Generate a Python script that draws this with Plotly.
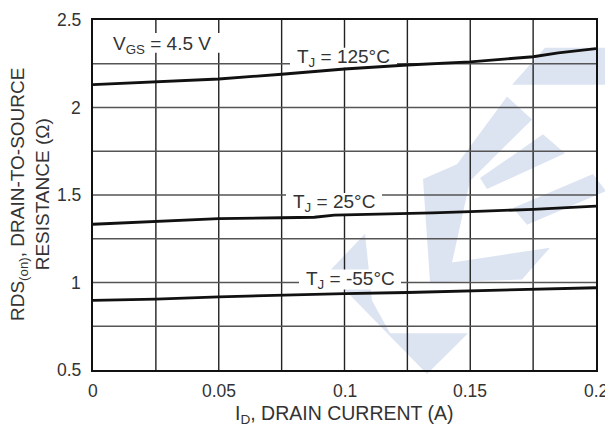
import plotly.graph_objects as go

# ---- data ----
x_125 = [0, 0.025, 0.05, 0.075, 0.1, 0.125, 0.15, 0.175, 0.185, 0.2]
r_125 = [2.131, 2.146, 2.163, 2.19, 2.22, 2.243, 2.261, 2.29, 2.312, 2.337]

x_25 = [0, 0.025, 0.05, 0.075, 0.088, 0.096, 0.125, 0.135, 0.15, 0.175, 0.2]
r_25 = [1.333, 1.35, 1.365, 1.37, 1.373, 1.385, 1.393, 1.398, 1.405, 1.418, 1.436]

x_m55 = [0, 0.025, 0.05, 0.075, 0.1, 0.125, 0.15, 0.175, 0.2]
r_m55 = [0.898, 0.905, 0.918, 0.928, 0.936, 0.943, 0.951, 0.96, 0.97]

x_ticks = [0, 0.05, 0.1, 0.15, 0.2]
x_tick_labels = ["0", "0.05", "0.1", "0.15", "0.2"]
y_ticks = [0.5, 1, 1.5, 2, 2.5]
y_tick_labels = ["0.5", "1", "1.5", "2", "2.5"]
x_grid_step = 0.025
y_grid_step = 0.25

FONT = "Liberation Sans, Arial, sans-serif"
TXT = "#333333"
FS = 17.5      # tick labels
FL = 19        # in-plot labels / y title
FX = 19.5      # x title

# page body has an 8px margin: compensate so the plot lands where the reference has it
OFF = 8
W, H = 613 - OFF, 432 - OFF
L, R, T, B = 93, 596, 18, 370          # plot area in window pixels

fig = go.Figure()
for xs, ys in [(x_125, r_125), (x_25, r_25), (x_m55, r_m55)]:
    fig.add_trace(go.Scatter(x=xs, y=ys, mode="lines",
                             line=dict(color="#111111", width=2.8),
                             showlegend=False, hoverinfo="skip"))

def px2paper(X, Y):
    return (X - L) / (R - L), (B - Y) / (B - T)

def pp(pts):
    s = ""
    for i, (X, Y) in enumerate(pts):
        px, py = px2paper(X, Y)
        s += ("M" if i == 0 else "L") + f"{px:.4f},{py:.4f} "
    return s + "Z"

shapes = []
# watermark (light blue logo)
wm = [
    [(512, 83), (545, 46), (640, 46), (640, 83)],
    [(423, 178), (457, 163), (507, 95), (532, 118), (470, 180), (452, 262), (550, 247), (522, 279), (430, 282)],
    [(480, 177), (543, 133), (565, 152), (487, 188)],
    [(513, 207), (593, 173), (606, 190), (527, 224)],
    [(365, 233), (328, 272), (427, 374), (468, 333), (390, 333), (372, 300)],
]
for poly in wm:
    shapes.append(dict(type="path", xref="paper", yref="paper", path=pp(poly),
                       fillcolor="#dde4f1", line=dict(width=0), layer="below"))

# grid lines (drawn as shapes so the label boxes can cover them but not the curves)
nx = int(round(0.2 / x_grid_step))
for k in range(1, nx):
    shapes.append(dict(type="line", xref="x", yref="paper", x0=k * x_grid_step, x1=k * x_grid_step,
                       y0=0, y1=1, line=dict(color="#222222", width=1.4), layer="below"))
ny = int(round(2.0 / y_grid_step))
for k in range(1, ny):
    yv = 0.5 + k * y_grid_step
    shapes.append(dict(type="line", xref="paper", yref="y", x0=0, x1=1, y0=yv, y1=yv,
                       line=dict(color="#555555", width=1.6), layer="below"))

# white boxes behind the in-plot labels
label_boxes = [(109, 31, 223, 51), (290, 46, 397, 66), (286, 192, 382, 213), (299, 269, 401, 289)]
for x0, y0, x1, y1 in label_boxes:
    a0, b0 = px2paper(x0, y1)
    a1, b1 = px2paper(x1, y0)
    shapes.append(dict(type="rect", xref="paper", yref="paper", x0=a0, y0=b0, x1=a1, y1=b1,
                       fillcolor="white", line=dict(width=0), layer="below"))

ann_font = dict(family=FONT, size=FL, color=TXT)
annotations = [
    dict(x=0.0275, y=2.36, text="V<sub>GS</sub> = 4.5 V", showarrow=False, font=ann_font),
    dict(x=0.0995, y=2.285, text="T<sub>J</sub> = 125°C", showarrow=False, font=ann_font),
    dict(x=0.0958, y=1.452, text="T<sub>J</sub> = 25°C", showarrow=False, font=ann_font),
    dict(x=0.1022, y=1.014, text="T<sub>J</sub> = -55°C", showarrow=False, font=ann_font),
    dict(xref="paper", yref="paper", x=0.5, y=0, yshift=-44, xanchor="center", yanchor="middle",
         text="I<sub>D</sub>, DRAIN CURRENT (A)", showarrow=False,
         font=dict(family=FONT, size=FX, color=TXT)),
    dict(xref="paper", yref="paper", x=0, y=0.5, xshift=-63, xanchor="center", yanchor="middle",
         textangle=-90, text="RDS<sub>(on)</sub>, DRAIN-TO-SOURCE<br>RESISTANCE (Ω)",
         showarrow=False, font=dict(family=FONT, size=FL, color=TXT)),
]

fig.update_layout(
    width=W, height=H,
    margin=dict(l=L - OFF, r=W - (R - OFF), t=T - OFF, b=H - (B - OFF)),
    paper_bgcolor="white", plot_bgcolor="white",
    shapes=shapes, annotations=annotations,
    font=dict(family=FONT, size=FS, color=TXT),
)
fig.update_xaxes(range=[0, 0.2], showticklabels=False, showgrid=False,
                 ticks="", showline=True, linecolor="#111111", linewidth=2.2,
                 mirror=True, zeroline=False)
fig.update_yaxes(range=[0.5, 2.5], showticklabels=False, showgrid=False,
                 ticks="", showline=True, linecolor="#111111", linewidth=2.2,
                 mirror=True, zeroline=False)
# tick labels (only every other grid line is labelled)
for v, t in zip(x_ticks, x_tick_labels):
    fig.add_annotation(x=v, y=0, yref="paper", yshift=-21, text=t, showarrow=False,
                       xanchor="center", yanchor="middle",
                       font=dict(family=FONT, size=FS, color=TXT))
for v, t in zip(y_ticks, y_tick_labels):
    fig.add_annotation(x=0, xref="paper", y=v, xshift=-10, text=t, showarrow=False,
                       xanchor="right", yanchor="middle",
                       font=dict(family=FONT, size=FS, color=TXT))

fig.write_html("out.html")
